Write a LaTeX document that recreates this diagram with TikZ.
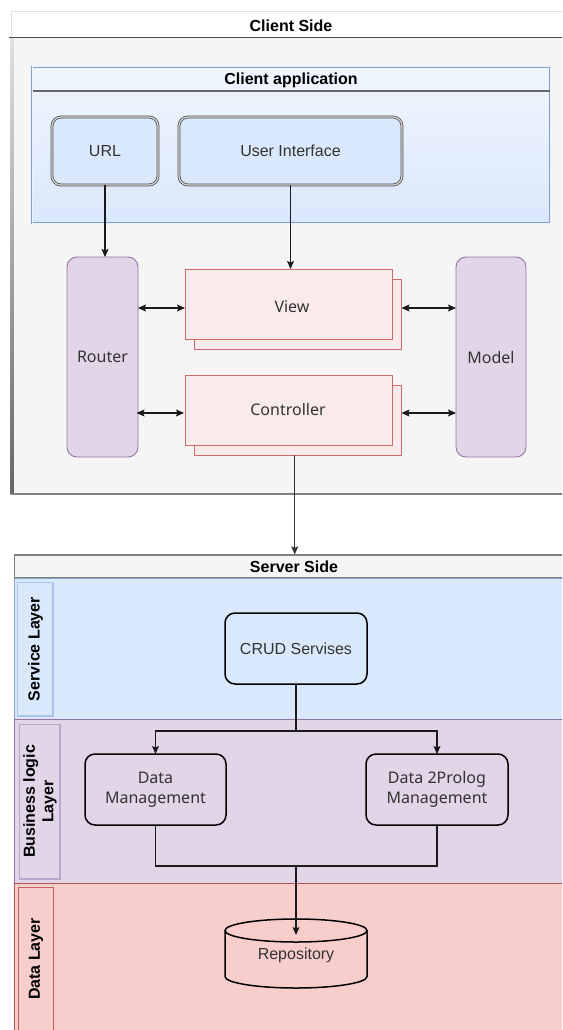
\documentclass[tikz,border=0pt]{standalone}
\usepackage{fontspec}
\setmainfont{Liberation Sans}
\newfontfamily\nsans{Noto Sans}
\usetikzlibrary{arrows.meta}
\definecolor{bluefill}{HTML}{DAE8FC}
\definecolor{blueline}{HTML}{6C8EBF}
\definecolor{bluelite}{HTML}{A9C4EB}
\definecolor{purplefill}{HTML}{E1D5E7}
\definecolor{purpleline}{HTML}{9673A6}
\definecolor{purplelite}{HTML}{BBA5CC}
\definecolor{redfill}{HTML}{F8CECC}
\definecolor{redline}{HTML}{B85450}
\definecolor{cardfill}{HTML}{F9EBEB}
\definecolor{cardline}{HTML}{D06A6A}
\definecolor{csbg}{HTML}{F5F5F5}
\definecolor{txt}{HTML}{333333}
\definecolor{edge}{HTML}{1A1A1A}
\tikzset{
  basefont/.style={font=\fontsize{16}{20}\selectfont},
  titletext/.style={font=\fontsize{16}{19}\selectfont\bfseries, text=black, inner sep=0pt},
  uibox/.style={basefont, text=txt, rounded corners=9pt, draw=black!70, double=white!85!black,
    double distance=1.2pt, line width=0.8pt, fill=bluefill, inner sep=0pt, outer sep=0pt},
  purplebox/.style={basefont, nsans, text=txt, rounded corners=10pt, draw=purpleline, line width=0.9pt,
    fill=purplefill, inner sep=0pt, outer sep=0pt},
  cardbox/.style={basefont, nsans, text=txt, draw=cardline, line width=0.9pt, fill=cardfill,
    inner sep=0pt, outer sep=0pt},
  blackbox/.style={basefont, text=txt, rounded corners=10pt, draw=black, line width=1.5pt,
    inner sep=0pt, outer sep=0pt, align=center},
  nsans/.style={font=\fontsize{16}{21}\selectfont\nsans},
  arr/.style={draw=edge, line width=1.1pt, -{Stealth[length=8pt,width=7pt,inset=1.5pt]}},
  darr/.style={draw=edge, line width=1.1pt, {Stealth[length=8pt,width=7pt,inset=1.5pt]}-{Stealth[length=8pt,width=7pt,inset=1.5pt]}},
  plain/.style={draw=edge, line width=1.1pt},
  lanetext/.style={font=\fontsize{16}{18.5}\selectfont\bfseries, text=black, rotate=90, align=center, inner sep=0pt}
}
\begin{document}
\begin{tikzpicture}[x=1pt,y=-1pt]
\useasboundingbox (0,0) rectangle (562,1030);
\clip (0,0) rectangle (562,1030);
\fill[white] (0,0) rectangle (562,1030);

% ---------- Client Side container ----------
\fill[csbg] (11,38) rectangle (575,494);
\fill[white] (11,12) rectangle (575,38);
\draw[black!12, line width=1pt] (11,38) -- (11,12) -- (575,12);
\shade[top color=black!12, bottom color=black!60] (10.5,38) rectangle (13.5,494);
\draw[black!70, line width=1.3pt] (9,37.5) -- (575,37.5);
\draw[black!50, line width=2.2pt] (10.5,494) -- (575,494);
\node[titletext] (clientside) at (291,26) {Client Side};

% ---------- Client application ----------
\node[top color=bluefill!40, bottom color=bluefill, draw=blueline!85, double=bluefill!60, double distance=1pt,
  line width=0.7pt, minimum width=518, minimum height=156, inner sep=0pt] (clientapp) at (291,145) {};
\draw[black!60, line width=1.3pt] (32.5,91) -- (549.5,91);
\node[titletext] (clientapptitle) at (291,80) {Client application};

\node[uibox, minimum width=106, minimum height=68] (url) at (105,151) {URL};
\node[uibox, minimum width=223, minimum height=68] (ui) at (290.5,151) {User Interface};

% ---------- MVC ----------
\node[purplebox, minimum width=71, minimum height=200] (router) at (102.5,357) {Router};
\node[purplebox, minimum width=70, minimum height=200] (model) at (491,357) {Model};

\node[cardbox, minimum width=207, minimum height=70] (viewback) at (298,314) {};
\node[cardbox, minimum width=207, minimum height=70] (view) at (288.5,304) {};
\node[nsans, text=txt] (viewlabel) at (292,307) {View};

\node[cardbox, minimum width=207, minimum height=70] (controllerback) at (298,420) {};
\node[cardbox, minimum width=207, minimum height=70] (controller) at (288.5,410) {};
\node[nsans, text=txt] (controllerlabel) at (288,409) {Controller};

\coordinate (vrow) at (0,308);
\coordinate (crow) at (0,413);

\draw[arr] (url.south) -- (url.south |- router.north);
\draw[arr] (ui.south) -- (ui.south |- view.north);
\draw[darr] (router.east |- vrow) -- (view.west |- vrow);
\draw[darr] (viewback.east |- vrow) -- (model.west |- vrow);
\draw[darr] ([xshift=-1.5pt]router.east |- crow) -- ([xshift=-1pt]controller.west |- crow);
\draw[darr] (controllerback.east |- crow) -- (model.west |- crow);

% ---------- Server Side ----------
\fill[redfill] (14.5,883) rectangle (575,1040);
\draw[redline, line width=0.9pt] (14.5,1040) -- (14.5,883) -- (575,883);
\fill[purplefill] (14.5,719) rectangle (575,883);
\draw[purpleline, line width=0.9pt] (14.5,883) -- (14.5,719) -- (575,719);
\fill[bluefill] (14.5,578) rectangle (575,719);
\draw[blueline!80, line width=0.9pt] (14.5,719) -- (14.5,578) -- (575,578);
\node[fill=csbg, draw=black!50, line width=1.2pt, minimum width=560.5, minimum height=23, inner sep=0pt] (serverside) at (294.75,566.5) {};
\node[titletext] (serversidetitle) at (294,567) {Server Side};
\draw[blueline!80, line width=0.9pt] (14.5,578) -- (575,578);

\draw[arr, draw=black!80] (controllerback.south -| serverside.north) -- (serverside.north);

% lane labels
\draw[bluelite, fill=bluefill, line width=1.6pt] (17.5,582.5) rectangle (53,716);
\node[lanetext] (svclabel) at (35.5,649) {Service Layer};
\draw[purplelite, fill=purplefill, line width=1.6pt] (19.5,724.5) rectangle (60,879);
\node[lanetext] (bizlabel) at (40,801.5) {Business logic\\Layer};
\draw[redline!90, fill=redfill, line width=0.9pt] (18,887) rectangle (53,1040);
\node[lanetext] (datalabel) at (36,959) {Data Layer};

% service nodes
\node[blackbox, fill=bluefill, minimum width=142, minimum height=71] (crud) at (296,648.5) {CRUD Servises};
\node[blackbox, nsans, fill=purplefill, minimum width=141, minimum height=71] (dm) at (155.5,789.5) {Data\\[-1pt]Management};
\node[blackbox, nsans, fill=purplefill, minimum width=142, minimum height=71] (dp) at (437,789.5) {Data 2Prolog\\[-1pt]Management};

\coordinate (split) at (296,731);
\coordinate (join) at (296,866);
\coordinate (repotop) at (296,935);

\draw[arr] (crud.south) -- (split) -| (dm.north);
\draw[arr] (split) -| (dp.north);
\draw[plain] (dm.south) |- (join);
\draw[plain] (dp.south) |- (join);

% repository cylinder
\draw[black, line width=1.5pt, fill=redfill] (225,930.5) -- (225,976.5)
  arc[start angle=180, end angle=360, x radius=71pt, y radius=11.5pt] -- (367,930.5)
  arc[start angle=0, end angle=180, x radius=71pt, y radius=11.5pt] -- cycle;
\draw[black, line width=1.5pt] (225,930.5) arc[start angle=180, end angle=360, x radius=71pt, y radius=11.5pt];
\node[basefont, text=txt] (repo) at (296,955) {Repository};

\draw[arr] (join) -- (repotop);
\end{tikzpicture}
\end{document}
